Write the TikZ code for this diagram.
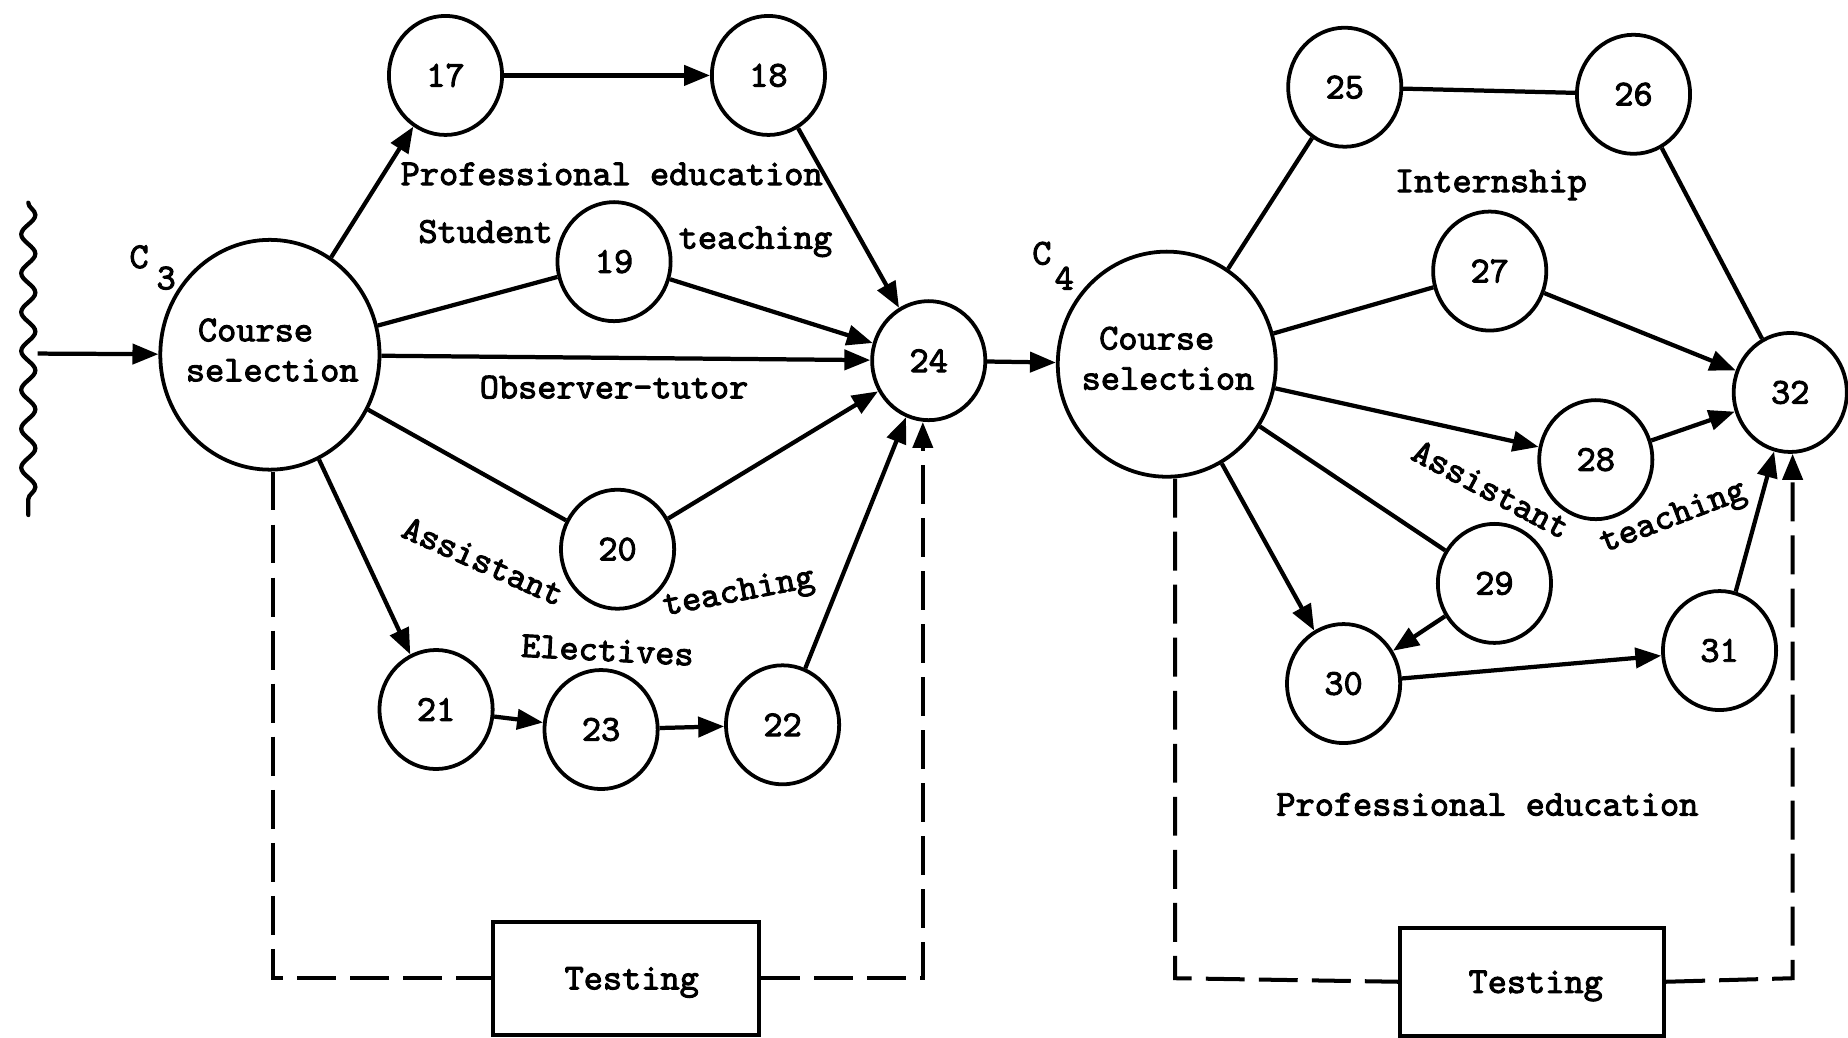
\documentclass[tikz,border=0pt]{standalone}
\usepackage{fontspec}
\newfontfamily\tw{lmmono10-regular.otf}[FakeBold=2.6]
\usetikzlibrary{arrows.meta,shapes.geometric,decorations.pathmorphing,calc}

\begin{document}
\begin{tikzpicture}[x=1pt,y=-1pt,
  every node/.style={font=\tw\bfseries\fontsize{31}{34}\selectfont},
  ev/.style={draw, ellipse, line width=3.2pt, minimum width=96pt, minimum height=101pt, inner sep=0pt},
  cs/.style={draw, ellipse, line width=3.2pt, inner sep=0pt},
  lk/.style={line width=3.6pt},
  ar/.style={line width=3.6pt, -{Triangle[length=22pt,width=17pt]}},
  tb/.style={draw, line width=3.4pt, inner sep=0pt, text height=19pt, text depth=0pt},
  ds/.style={line width=3.4pt, dash pattern=on 33pt off 12pt},
  lbl/.style={anchor=base, inner sep=0pt},
]
\useasboundingbox (0,0) rectangle (1568,880);

% ---- first block: C3 ----
\node[cs, minimum width=186pt, minimum height=195pt] (C3) at (229,301) {};
\node[align=left, inner sep=0pt, yshift=4pt, xshift=2pt] (C3t) at (C3) {\hspace*{0.33em}Course\\selection};
\node (C3c) at (118,218) {C};
\node (C3s) at (141,236) {3};

\node[ev] (n17) at (378,64) {17};
\node[ev] (n18) at (652,64) {18};
\node[ev] (n19) at (521,222) {19};
\node[ev] (n24) at (788,306) {24};
\node[ev] (n20) at (524,466) {20};
\node[ev] (n21) at (370,602) {21};
\node[ev] (n23) at (510,619) {23};
\node[ev] (n22) at (664,615) {22};

\node[tb, minimum width=226pt, minimum height=96pt] (T1) at (531,830) {\hspace*{10pt}Testing};

% entry from the previous phase
\draw[line width=3.6pt, line cap=round, decorate,
      decoration={snake, amplitude=6pt, segment length=33pt}]
  (24,172) -- (24,437);
\coordinate (w) at (32,300);
\draw[ar] (w) -- (C3);

\draw[ar] (C3) -- (n17);
\draw[ar] (n17) -- (n18);
\draw[ar] (n18) -- (n24);
\draw[lk] (C3) -- (n19);
\draw[ar] (n19) -- (n24);
\draw[ar] (C3) -- (n24);
\draw[lk] (C3) -- (n20);
\draw[ar] (n20) -- (n24);
\draw[ar] (C3) -- (n21);
\draw[ar] (n21) -- (n23);
\draw[ar] (n23) -- (n22);
\draw[ar] (n22) -- (n24);

\coordinate (dA) at (232,830);
\coordinate (dB) at (783,830);
\draw[ds] (C3.south -| dA) -- (dA) -- (T1.west);
\draw[ds, -{Triangle[length=22pt,width=17pt]}] (T1.east) -- (dB) -- (dB |- n24.south);

\node[lbl] (l1) at (519,157) {Professional education};
\node[lbl] (l2) at (412,206) {Student};
\node[lbl] (l3) at (641,211) {teaching};
\node[lbl] (l4) at (521,338) {Observer-tutor};
\node[rotate=-24] (l5) at (410,476) {Assistant};
\node[rotate=11] (l6) at (627,504) {teaching};
\node[lbl, rotate=-3] (l7) at (515,561) {Electives};

% ---- second block: C4 ----
\node[cs, minimum width=185pt, minimum height=191pt] (C4) at (990,309) {};
\node[align=left, inner sep=0pt, yshift=5pt, xshift=1pt] (C4t) at (C4) {\hspace*{0.48em}Course\\selection};
\node (C4c) at (884,215) {C};
\node (C4s) at (903,236) {4};

\draw[ar] (n24) -- (C4);

\node[ev] (n25) at (1141,74) {25};
\node[ev] (n26) at (1386,80) {26};
\node[ev] (n27) at (1264,230) {27};
\node[ev] (n32) at (1519,333) {32};
\node[ev] (n28) at (1354,390) {28};
\node[ev] (n29) at (1268,495) {29};
\node[ev] (n30) at (1140,580) {30};
\node[ev] (n31) at (1459,552) {31};

\node[tb, minimum width=224pt, minimum height=92pt] (T2) at (1300,833) {\hspace*{6pt}Testing};

\draw[lk] (C4) -- (n25);
\draw[lk] (n25) -- (n26);
\draw[lk] (n26) -- (n32);
\draw[lk] (C4) -- (n27);
\draw[ar] (n27) -- (n32);
\draw[ar] (C4) -- (n28);
\draw[ar] (n28) -- (n32);
\draw[lk] (C4) -- (n29);
\draw[ar] (C4) -- (n30);
\draw[ar] (n29) -- (n30);
\draw[ar] (n30) -- (n31);
\draw[ar] (n31) -- (n32);

\coordinate (dC) at (997,830);
\coordinate (dD) at (1521,830);
\draw[ds] (C4.south -| dC) -- (dC) -- (T2.west);
\draw[ds, -{Triangle[length=22pt,width=17pt]}] (T2.east) -- (dD) -- (dD |- n32.south);

\node[lbl] (r1) at (1265,163) {Internship};
\node[rotate=-28] (r2) at (1265,415) {Assistant};
\node[rotate=21] (r3) at (1420,440) {teaching};
\node[lbl] (r4) at (1262,692) {Professional education};
\end{tikzpicture}
\end{document}
